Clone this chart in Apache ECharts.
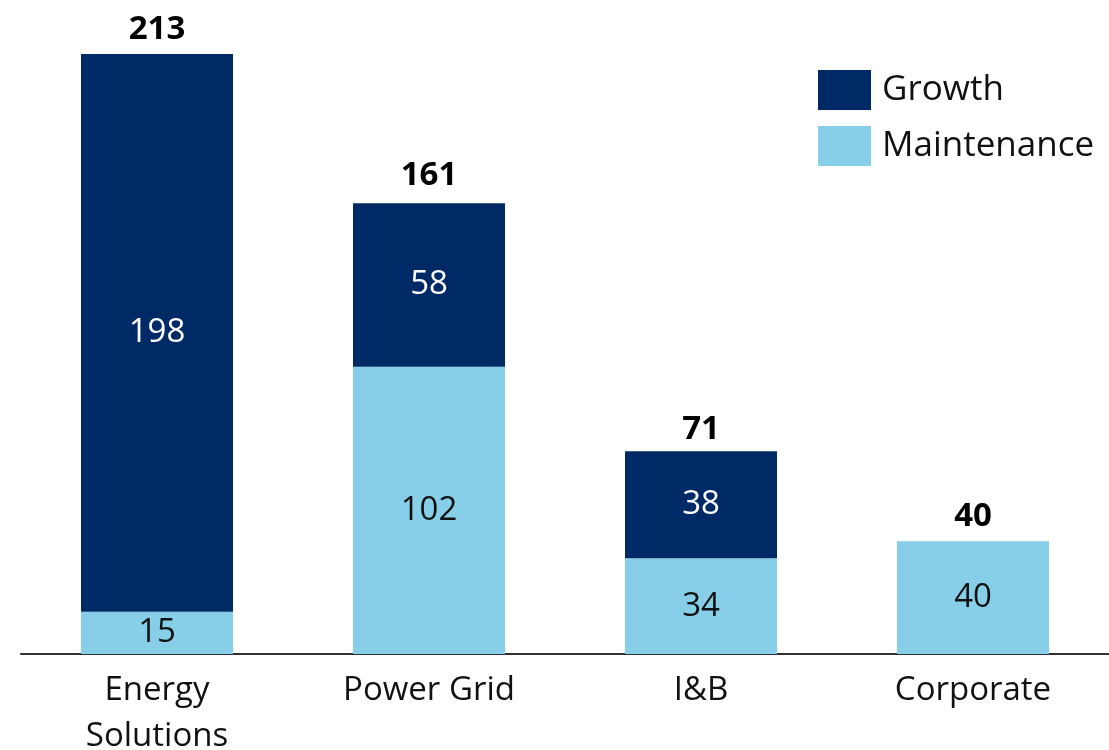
<!DOCTYPE html>
<html>
<head>
<meta charset="utf-8">
<script src="https://cdn.jsdelivr.net/npm/echarts@6/dist/echarts.min.js"></script>
<style>
  html, body { margin: 0; padding: 0; background: #fff; }
  #chart { width: 1109px; height: 750px; }
</style>
</head>
<body>
<div id="chart"></div>
<script>
const categories = ['Energy\nSolutions', 'Power Grid', 'I&B', 'Corporate'];
const maintenance = [15, 102, 34, 40];
const growth = [198, 58, 38, null];
const totals = [213, 161, 71, 40];

const font = '"Open Sans", "DejaVu Sans", sans-serif';
const chart = echarts.init(document.getElementById('chart'));

chart.setOption({
  animation: false,
  textStyle: { fontFamily: font },
  grid: { left: 21, right: 0, top: 54, bottom: 96, outerBoundsMode: 'none', containLabel: false },
  legend: {
    data: ['Growth', 'Maintenance'],
    orient: 'vertical',
    left: 818,
    top: 70,
    padding: 0,
    itemWidth: 53,
    itemHeight: 40,
    itemGap: 16,
    icon: 'rect',
    textStyle: { fontSize: 35, color: '#111', fontFamily: font, padding: [6, 0, 0, 6] }
  },
  xAxis: {
    type: 'category',
    data: categories,
    axisLine: { lineStyle: { color: '#333', width: 2 } },
    axisTick: { show: false },
    axisLabel: { fontSize: 33, color: '#111', lineHeight: 46, margin: 14, interval: 0 }
  },
  yAxis: {
    type: 'value',
    min: 0,
    max: 213,
    show: false,
    splitLine: { show: false }
  },
  series: [
    {
      name: 'Maintenance',
      type: 'bar',
      stack: 'capex',
      data: maintenance,
      barWidth: 152,
      itemStyle: { color: '#87CEE8' },
      label: { show: true, position: 'inside', fontSize: 33, color: '#111' }
    },
    {
      name: 'Growth',
      type: 'bar',
      stack: 'capex',
      data: growth,
      barWidth: 152,
      itemStyle: { color: '#002A66' },
      label: { show: true, position: 'inside', fontSize: 33, color: '#fff' }
    },
    {
      name: 'Total',
      type: 'bar',
      data: totals,
      barWidth: 152,
      barGap: '-100%',
      silent: true,
      z: 0,
      itemStyle: { color: 'rgba(0,0,0,0)' },
      label: { show: true, position: 'top', distance: 8, fontSize: 33, fontWeight: 'bold', color: '#000' }
    }
  ]
});
</script>
</body>
</html>
